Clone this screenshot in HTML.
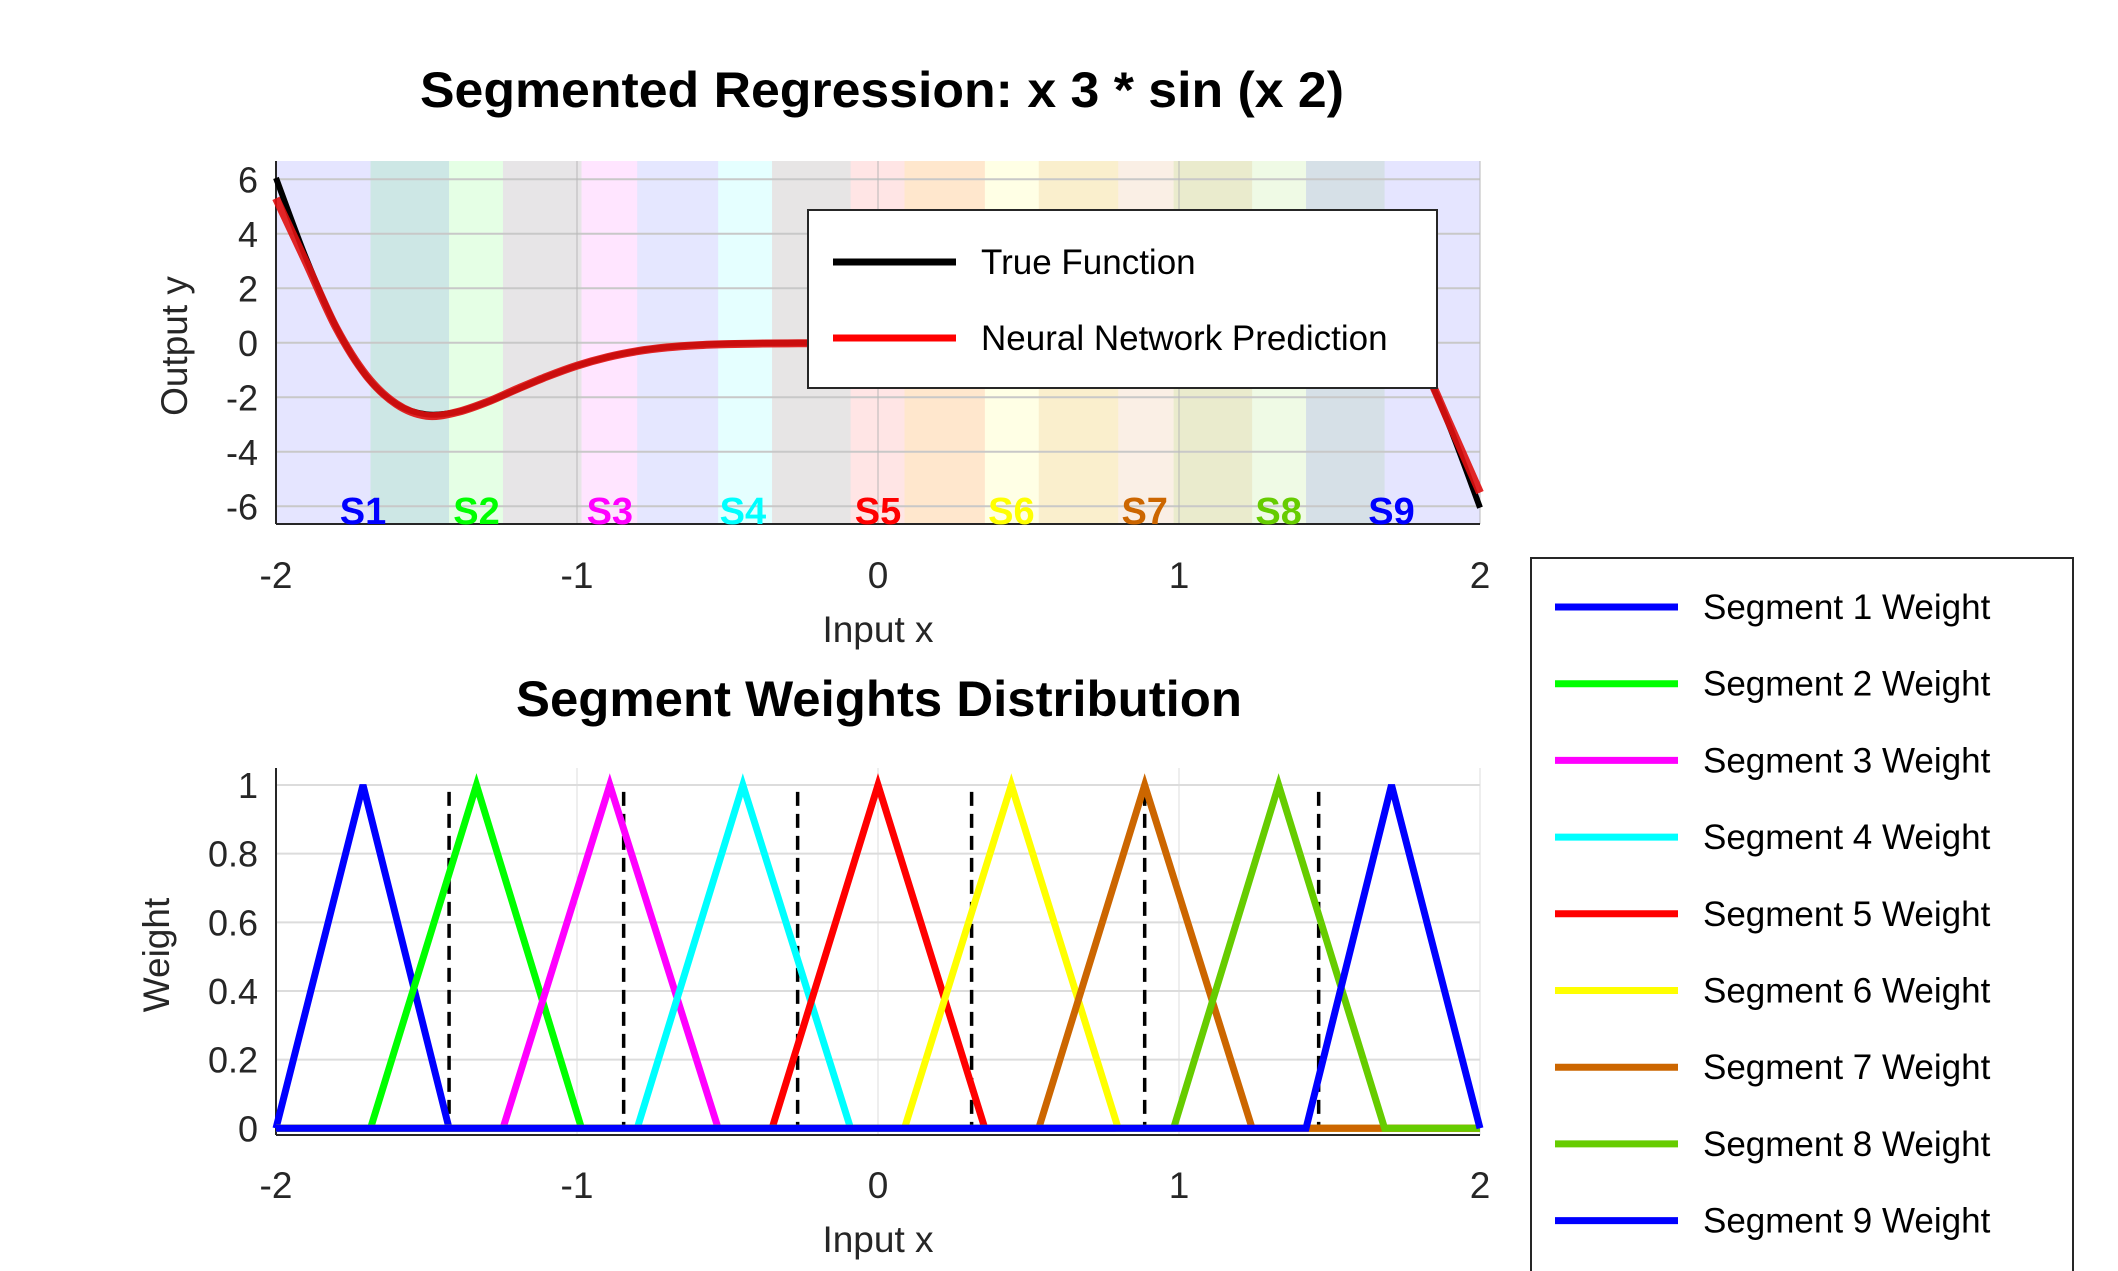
<!DOCTYPE html>
<html><head><meta charset="utf-8"><style>
html,body{margin:0;padding:0;background:#fff;}
svg{display:block;font-family:"Liberation Sans",Arial,sans-serif;}
</style></head><body>
<svg id="fig" width="2118" height="1271" viewBox="0 0 2118 1271" xmlns="http://www.w3.org/2000/svg">
<rect width="2118" height="1271" fill="#fff"/>
<g id="topPlot"></g>
<g id="botPlot"></g>
<g id="legBox"></g>
</svg>
<script>
const NS="http://www.w3.org/2000/svg";
const segColors=["#0000ff","#00ff00","#ff00ff","#00ffff","#ff0000","#ffff00","#cc6600","#66cc00","#0000ff"];
const segLeft=[-2,-1.686,-1.246,-0.80,-0.352,0.088,0.534,0.982,1.422];
const segPeak=[-1.711,-1.334,-0.891,-0.449,0,0.443,0.886,1.331,1.706];
const segRight=[-1.425,-0.985,-0.531,-0.091,0.355,0.798,1.243,1.683,2];
const boundaries=[-1.425,-0.845,-0.267,0.311,0.886,1.464];
const xGrid=[-2,-1.9,-1.8,-1.7,-1.6,-1.5,-1.4,-1.3,-1.2,-1.1,-1.0,-0.9,-0.8,-0.7,-0.6,-0.5,-0.4,-0.3,-0.2,-0.1,0,0.1,0.2,0.3,0.4,0.5,0.6,0.7,0.8,0.9,1.0,1.1,1.2,1.3,1.4,1.5,1.6,1.7,1.8,1.9,2];
const trueY=[6.05,3.10,0.574,-1.222,-2.247,-2.626,-2.539,-2.181,-1.713,-1.245,-0.841,-0.528,-0.306,-0.161,-0.076,-0.031,-0.010,-0.002,0,0,0,0,0,0.002,0.010,0.031,0.076,0.161,0.306,0.528,0.841,1.245,1.713,2.181,2.539,2.626,2.247,1.222,-0.574,-3.10,-6.05];
const predY=[5.3,2.95,0.55,-1.20,-2.25,-2.68,-2.55,-2.18,-1.70,-1.24,-0.84,-0.53,-0.31,-0.17,-0.09,-0.05,-0.03,-0.02,-0.02,-0.02,-0.02,-0.02,-0.02,-0.01,0.01,0.03,0.07,0.16,0.30,0.52,0.84,1.24,1.70,2.17,2.53,2.62,2.25,1.22,-0.55,-3.0,-5.5];
const topYTicks=[6,4,2,0,-2,-4,-6];
const botYTicks=[1,0.8,0.6,0.4,0.2,0];
const xTicks=[-2,-1,0,1,2];
const segLabels=["S1","S2","S3","S4","S5","S6","S7","S8","S9"];

const X0=276,X1=1480;
const sx=v=>X0+(v+2)/4*(X1-X0);
const TY0=161,TY1=524, tyMin=-6.65,tyMax=6.67;
const sy=v=>TY0+(tyMax-v)/(tyMax-tyMin)*(TY1-TY0);
const BY0=768,BY1=1135;
const by=v=>1128.3-v*343.3;

function el(tag,attrs,parent,text){const e=document.createElementNS(NS,tag);for(const k in attrs)e.setAttribute(k,attrs[k]);if(text!==undefined)e.textContent=text;parent.appendChild(e);return e;}
function smoothPath(ys,f){
 const P=xGrid.map((x,i)=>[sx(x),f(ys[i])]);
 let d='M'+P[0][0]+','+P[0][1];
 for(let i=0;i<P.length-1;i++){
  const p0=P[Math.max(0,i-1)],p1=P[i],p2=P[i+1],p3=P[Math.min(P.length-1,i+2)];
  const c1=[p1[0]+(p2[0]-p0[0])/6,p1[1]+(p2[1]-p0[1])/6];
  const c2=[p2[0]-(p3[0]-p1[0])/6,p2[1]-(p3[1]-p1[1])/6];
  d+=' C'+c1[0]+','+c1[1]+' '+c2[0]+','+c2[1]+' '+p2[0]+','+p2[1];
 }
 return d;
}

const topG=document.getElementById('topPlot');
segLeft.forEach((l,i)=>{
 const r=el('rect',{x:sx(l),y:TY0,width:sx(segRight[i])-sx(l),height:TY1-TY0,fill:segColors[i],'fill-opacity':0.1},topG);
 
 
});
topYTicks.forEach(t=>{
 const g=el('line',{x1:X0,x2:X1,y1:sy(t),y2:sy(t),stroke:'#c8c8c8','stroke-width':2},topG);
 
 
 const lb=el('text',{x:258,y:sy(t)+13,'font-size':36,'text-anchor':'end',fill:'#262626'},topG,String(t));
 
 
});
xTicks.forEach(t=>{
 const g=el('line',{x1:sx(t),x2:sx(t),y1:TY0,y2:TY1,stroke:'#b8b8b8','stroke-width':1},topG);
 
 
 const lb=el('text',{x:sx(t),y:588,'font-size':37,'text-anchor':'middle',fill:'#262626'},topG,String(t));
 
 
});
el('line',{x1:X0,x2:X0,y1:TY0,y2:TY1,stroke:'#262626','stroke-width':2},topG);
el('line',{x1:X0,x2:X1,y1:TY1,y2:TY1,stroke:'#262626','stroke-width':2},topG);
const tl=el('path',{d:smoothPath(trueY,sy),fill:'none',stroke:'#000','stroke-width':6,'stroke-linejoin':'round'},topG);


const pl=el('path',{d:smoothPath(predY,sy),fill:'none',stroke:'#e01010','stroke-width':8,'stroke-linejoin':'round','stroke-opacity':0.9},topG);


segLabels.forEach((s,i)=>{
 const t=el('text',{x:sx(segPeak[i]),y:524,'font-size':38,'font-weight':'bold','text-anchor':'middle',fill:segColors[i]},topG,s);
 
 
});
const tlg=el('g',{},topG);


el('rect',{x:808,y:210,width:629,height:178,fill:'#fff',stroke:'#262626','stroke-width':2},tlg);
el('line',{x1:833,x2:956,y1:262,y2:262,stroke:'#000','stroke-width':7},tlg);
el('text',{x:981,y:274,'font-size':35,fill:'#000'},tlg,'True Function');
el('line',{x1:833,x2:956,y1:338,y2:338,stroke:'#ff0000','stroke-width':7},tlg);
el('text',{x:981,y:350,'font-size':35,fill:'#000'},tlg,'Neural Network Prediction');
const t1=el('text',{x:882,y:107,'font-size':50,'font-weight':'bold','text-anchor':'middle',textLength:924,lengthAdjust:'spacingAndGlyphs',fill:'#000'},topG,'Segmented Regression: x  3 * sin (x  2)');


const xl1=el('text',{x:878,y:642,'font-size':37,'text-anchor':'middle',fill:'#262626'},topG,'Input x');


const yl1=el('text',{x:0,y:0,'font-size':37,'text-anchor':'middle',fill:'#262626',transform:'translate(187,346) rotate(-90)'},topG,'Output y');



const botG=document.getElementById('botPlot');
botYTicks.forEach(t=>{
 const g=el('line',{x1:X0,x2:X1,y1:by(t),y2:by(t),stroke:'#dcdcdc','stroke-width':2},botG);
 
 
 const lb=el('text',{x:258,y:by(t)+13,'font-size':36,'text-anchor':'end',fill:'#262626'},botG,String(t));
 
 
});
xTicks.forEach(t=>{
 const g=el('line',{x1:sx(t),x2:sx(t),y1:BY0,y2:BY1,stroke:'#dcdcdc','stroke-width':1},botG);
 
 
 const lb=el('text',{x:sx(t),y:1198,'font-size':37,'text-anchor':'middle',fill:'#262626'},botG,String(t));
 
 
});
el('line',{x1:X0,x2:X0,y1:BY0,y2:BY1,stroke:'#262626','stroke-width':2},botG);
el('line',{x1:X0,x2:X1,y1:BY1,y2:BY1,stroke:'#262626','stroke-width':2},botG);
boundaries.forEach(b=>{
 const d=el('line',{x1:sx(b),x2:sx(b),y1:by(0.98),y2:by(0),stroke:'#000','stroke-width':3.5,'stroke-dasharray':'14,8'},botG);
 
 
});
segLeft.forEach((l,i)=>{
 const p=[[-2,0],[l,0],[segPeak[i],1],[segRight[i],0],[2,0]].map(q=>sx(q[0])+','+by(q[1])).join(' ');
 const w=el('polyline',{points:p,fill:'none',stroke:segColors[i],'stroke-width':7,'stroke-linejoin':'miter'},botG);
 
 
});
const t2=el('text',{x:879,y:716,'font-size':50,'font-weight':'bold','text-anchor':'middle',textLength:726,lengthAdjust:'spacingAndGlyphs',fill:'#000'},botG,'Segment Weights Distribution');


const xl2=el('text',{x:878,y:1252,'font-size':37,'text-anchor':'middle',fill:'#262626'},botG,'Input x');


const yl2=el('text',{x:0,y:0,'font-size':37,'text-anchor':'middle',fill:'#262626',transform:'translate(169,955) rotate(-90)'},botG,'Weight');



const legG=document.getElementById('legBox');
el('rect',{x:1531,y:558,width:542,height:740,fill:'#fff',stroke:'#262626','stroke-width':2},legG);
segColors.forEach((c,i)=>{
 const y=607+i*76.7;
 const ln=el('line',{x1:1555,x2:1678,y1:y,y2:y,stroke:c,'stroke-width':7},legG);
 
 
 const tx=el('text',{x:1703,y:y+12,'font-size':35,fill:'#000'},legG,'Segment '+(i+1)+' Weight');
 
 
});
</script>
</body></html>
